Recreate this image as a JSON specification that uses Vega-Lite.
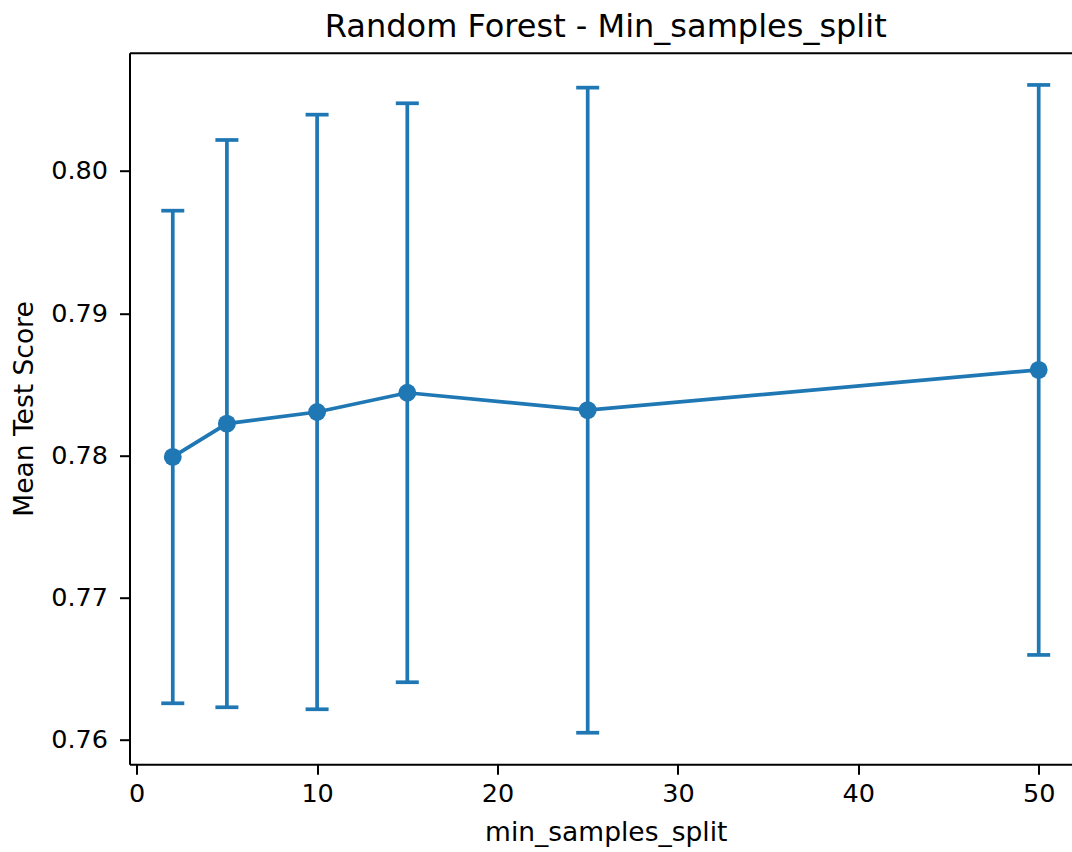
{
  "$schema": "https://vega.github.io/schema/vega-lite/v6.json",
  "autosize": "none",
  "width": 942.5,
  "height": 711.6,
  "padding": {"left": 129.5, "top": 52.7, "right": 0, "bottom": 87.7},
  "background": "white",
  "config": {
    "view": {"stroke": null},
    "axis": {
      "labelFont": "DejaVu Sans",
      "labelFontSize": 25.5,
      "labelColor": "black",
      "tickColor": "black",
      "tickWidth": 2,
      "tickSize": 10,
      "domainColor": "black",
      "domainWidth": 2,
      "grid": false,
      "titleFont": "DejaVu Sans",
      "titleFontSize": 26.5,
      "titleFontWeight": "normal",
      "titleColor": "black"
    }
  },
  "title": {
    "text": "Random Forest - Min_samples_split",
    "font": "DejaVu Sans",
    "fontSize": 32,
    "fontWeight": "normal",
    "color": "black",
    "anchor": "middle",
    "baseline": "alphabetic",
    "offset": -16,
    "dx": 5
  },
  "data": {
    "values": [
      {"min_samples_split": 2, "mean": 0.77990, "lower": 0.76258, "upper": 0.79721},
      {"min_samples_split": 5, "mean": 0.78224, "lower": 0.76230, "upper": 0.80218},
      {"min_samples_split": 10, "mean": 0.78306, "lower": 0.76216, "upper": 0.80396},
      {"min_samples_split": 15, "mean": 0.78441, "lower": 0.76406, "upper": 0.80476},
      {"min_samples_split": 25, "mean": 0.78319, "lower": 0.76051, "upper": 0.80586},
      {"min_samples_split": 50, "mean": 0.78602, "lower": 0.76598, "upper": 0.80605}
    ]
  },
  "resolve": {"axis": {"x": "independent", "y": "independent"}},
  "layer": [
    {
      "mark": {
        "type": "errorbar",
        "color": "#1f77b4",
        "thickness": 3.7,
        "opacity": 1,
        "rule": {"opacity": 1},
        "ticks": {"size": 23, "thickness": 3.7, "color": "#1f77b4", "opacity": 1}
      },
      "encoding": {
        "x": {
          "field": "min_samples_split",
          "type": "quantitative",
          "scale": {"domain": [-0.399, 51.846], "nice": false, "zero": false},
          "axis": {
            "title": "min_samples_split",
            "values": [0, 10, 20, 30, 40, 50],
            "labelPadding": 7,
            "titleX": 476.25,
            "titleY": 75.7,
            "titleAlign": "center",
            "titleBaseline": "alphabetic"
          }
        },
        "y": {
          "field": "lower",
          "type": "quantitative",
          "scale": {"domain": [0.758291, 0.808316], "nice": false, "zero": false},
          "axis": {
            "title": "Mean Test Score",
            "values": [0.76, 0.77, 0.78, 0.79, 0.80],
            "format": ".2f",
            "labelPadding": 12,
            "titleX": -97,
            "titleY": 355.8,
            "titleAngle": -90,
            "titleAlign": "center",
            "titleBaseline": "alphabetic"
          }
        },
        "y2": {"field": "upper"}
      }
    },
    {
      "mark": {
        "type": "line",
        "color": "#1f77b4",
        "strokeWidth": 3.7,
        "point": {"size": 320, "filled": true, "opacity": 1, "color": "#1f77b4"}
      },
      "encoding": {
        "x": {
          "field": "min_samples_split",
          "type": "quantitative",
          "scale": {"domain": [-0.399, 51.846], "nice": false, "zero": false},
          "axis": {"orient": "top", "labels": false, "ticks": false, "title": null, "domain": true}
        },
        "y": {
          "field": "mean",
          "type": "quantitative",
          "scale": {"domain": [0.758291, 0.808316], "nice": false, "zero": false},
          "axis": null
        }
      }
    }
  ]
}
